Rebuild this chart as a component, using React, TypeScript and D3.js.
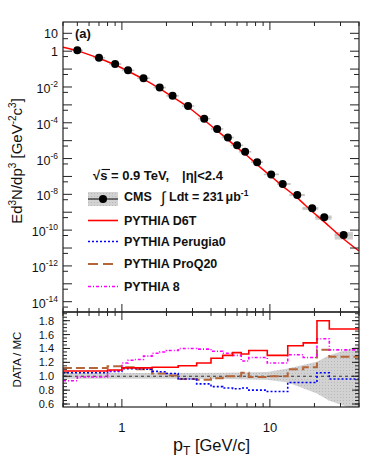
import React from 'react';
import * as d3 from 'd3';

// ---- data ----
const dataPt = [0.5, 0.7, 0.9, 1.1, 1.4, 1.8, 2.2, 2.8, 3.6, 4.4, 5.2, 6.0, 6.8, 8.2, 10.2, 12.2, 15.3, 19.3, 23.3, 31.5];
const dataVal = [1.12, 0.43, 0.19, 0.085, 0.031, 0.0093, 3.2e-3, 8.7e-4, 1.7e-4, 4.5e-5, 1.5e-5, 5.5e-6, 2.4e-6, 6.3e-7, 1.3e-7, 3.8e-8, 9.1e-9, 1.65e-9, 5.2e-10, 5.4e-11];
const dataPtLo = [0.455, 0.64, 0.82, 1.0, 1.27, 1.64, 2.0, 2.55, 3.27, 4.0, 4.73, 5.45, 6.18, 7.45, 9.1, 11.2, 13.6, 16.6, 20.3, 27.4];
const dataPtHi = [0.545, 0.77, 0.99, 1.21, 1.54, 1.98, 2.42, 3.08, 3.96, 4.84, 5.72, 6.6, 7.48, 9.0, 11.5, 13.8, 17.2, 21.2, 26.1, 36.4];
const dataSys = [0.04, 0.04, 0.04, 0.04, 0.04, 0.04, 0.04, 0.04, 0.04, 0.045, 0.045, 0.05, 0.05, 0.05, 0.06, 0.09, 0.13, 0.2, 0.28, 0.45];

const d6tPt = [0.4, 0.5, 0.7, 0.9, 1.1, 1.4, 1.8, 2.2, 2.8, 3.6, 4.4, 5.2, 6.0, 6.8, 8.2, 10.2, 12.2, 15.3, 19.3, 23.3, 31.5, 40];
const d6tVal = [1.65, 1.04, 0.40, 0.174, 0.076, 0.0277, 0.0082, 2.83e-3, 7.6e-4, 1.43e-4, 3.6e-5, 1.15e-5, 4.1e-6, 1.8e-6, 4.6e-7, 1.0e-7, 2.9e-8, 6.3e-9, 1.1e-9, 2.9e-10, 3.2e-11, 6.8e-12];

const ratioEdges = [0.4, 0.5, 0.8, 0.9, 1.0, 1.1, 1.2, 1.4, 1.6, 1.8, 2.0, 2.4, 3.2, 4.0, 4.8, 5.6, 6.4, 7.2, 9.6, 13.2, 16.8, 20.8, 25.2, 40];
const ratioD6T = [1.075, 1.075, 1.09, 1.09, 1.12, 1.12, 1.12, 1.12, 1.13, 1.13, 1.13, 1.15, 1.19, 1.26, 1.30, 1.34, 1.32, 1.37, 1.30, 1.44, 1.48, 1.80, 1.68];
const ratioPerugia0 = [1.05, 1.05, 1.07, 1.07, 1.11, 1.11, 1.11, 1.10, 1.07, 1.065, 1.04, 0.96, 0.89, 0.85, 0.83, 0.82, 0.83, 0.80, 0.78, 0.91, 0.91, 1.05, 0.96];
const ratioProQ20 = [1.12, 1.12, 1.145, 1.145, 1.13, 1.13, 1.10, 1.10, 1.04, 1.04, 1.01, 0.96, 0.95, 0.97, 1.0, 1.0, 1.05, 0.99, 1.0, 1.10, 1.13, 1.38, 1.28];
const ratioPythia8 = [0.935, 0.99, 1.08, 1.08, 1.19, 1.23, 1.24, 1.29, 1.33, 1.35, 1.37, 1.40, 1.39, 1.36, 1.33, 1.30, 1.22, 1.27, 1.19, 1.31, 1.27, 1.54, 1.38];

const bandPt = [0.4, 2, 5, 9.6, 13.2, 20.8, 25, 40];
const bandHi = [1.045, 1.045, 1.05, 1.06, 1.11, 1.21, 1.3, 1.44];
const bandLo = [0.965, 0.965, 0.96, 0.95, 0.91, 0.75, 0.65, 0.5];

const xMajor = [1, 10];
const xMinor = [0.4, 0.5, 0.6, 0.7, 0.8, 0.9, 2, 3, 4, 5, 6, 7, 8, 9, 20, 30, 40];
const yLabelExp = [1, 0, -2, -4, -6, -8, -10, -12, -14];
const ratioLabels = [0.6, 0.8, 1.0, 1.2, 1.4, 1.6, 1.8];

const COL = { d6t: '#ff0000', per: '#0000ff', pro: '#b5653a', p8: '#ff00ff' };
const FONT = '"Liberation Sans", Arial, Helvetica, sans-serif';

export default function App() {
  const W = 374, H = 474;
  const x0 = 63, x1 = 359, yT0 = 22, yT1 = 312, yB0 = 312, yB1 = 407;
  const x = d3.scaleLog().domain([0.4, 40]).range([x0, x1]);
  const yT = d3.scaleLog().domain([Math.pow(10, -14.576), Math.pow(10, 1.632)]).range([yT1, yT0]);
  const yB = d3.scaleLinear().domain([0.557, 1.925]).range([yB1, yB0]);

  const line = d3.line<number>().x((_, i) => x(d6tPt[i])).y((v) => yT(v)).curve(d3.curveMonotoneX);

  const stepPath = (vals: number[], fromBottom: boolean) => {
    let d = fromBottom ? `M${x(ratioEdges[0])},${yB1}L${x(ratioEdges[0])},${yB(vals[0])}` : `M${x(ratioEdges[0])},${yB(vals[0])}`;
    vals.forEach((v, i) => {
      d += `L${x(ratioEdges[i])},${yB(v)}L${x(ratioEdges[i + 1])},${yB(v)}`;
    });
    return d;
  };

  const band = d3.area<number>().x((_, i) => x(bandPt[i])).y0((_, i) => yB(bandLo[i])).y1((v) => yB(v));

  const yTicksMajor: number[] = [];
  const yTicksMinor: number[] = [];
  for (let k = -15; k <= 1; k++) {
    const v = Math.pow(10, k);
    if (yT(v) >= yT0 && yT(v) <= yT1) yTicksMajor.push(v);
    const m = 5 * Math.pow(10, k - 1);
    if (yT(m) >= yT0 && yT(m) <= yT1) yTicksMinor.push(m);
  }
  const rMajor = d3.range(0.6, 1.81, 0.2);
  const rMinor = d3.range(0.6, 1.92, 0.05).filter((v) => yB(v) >= yB0 && yB(v) <= yB1);

  const axisStroke = '#222';

  const xTicks = (yEdge: number, dir: number, key: string) => (
    <g key={key}>
      {xMajor.map((t) => (
        <line key={'M' + t} x1={x(t)} x2={x(t)} y1={yEdge} y2={yEdge + dir * 8} stroke={axisStroke} strokeWidth={1} />
      ))}
      {xMinor.map((t) => (
        <line key={'m' + t} x1={x(t)} x2={x(t)} y1={yEdge} y2={yEdge + dir * 4} stroke={axisStroke} strokeWidth={1} />
      ))}
    </g>
  );

  const legendRows = [
    { label: 'PYTHIA D6T', color: COL.d6t, dash: '', y: 220.5, w: 1.6 },
    { label: 'PYTHIA Perugia0', color: COL.per, dash: '2,2', y: 241.5, w: 1.6 },
    { label: 'PYTHIA ProQ20', color: COL.pro, dash: '10,5', y: 264, w: 2 },
    { label: 'PYTHIA 8', color: COL.p8, dash: '3,2,1,2', y: 286.5, w: 1.6 },
  ];

  return (
    <svg width={W} height={H} style={{ position: 'absolute', left: 0, top: 0, background: '#fff' }} fontFamily={FONT}>
      <defs>
        <clipPath id="clipTop">
          <rect x={x0} y={yT0} width={x1 - x0} height={yT1 - yT0} />
        </clipPath>
        <clipPath id="clipBot">
          <rect x={x0} y={yB0} width={x1 - x0} height={yB1 - yB0} />
        </clipPath>
        <pattern id="dots" width="3" height="3" patternUnits="userSpaceOnUse">
          <rect width="3" height="3" fill="#d2d2d2" />
          <rect x="1" y="1" width="1" height="1" fill="#b8b8b8" />
        </pattern>
      </defs>
      <rect width={W} height={H} fill="#fff" />

      {/* ===== TOP PANEL ===== */}
      <g clipPath="url(#clipTop)">
        {dataPt.map((p, i) => (
          <g key={'e' + i}>
            <rect
              x={x(dataPtLo[i])}
              width={x(dataPtHi[i]) - x(dataPtLo[i])}
              y={yT(dataVal[i] * (1 + dataSys[i]))}
              height={Math.max(0, yT(dataVal[i] * (1 - dataSys[i])) - yT(dataVal[i] * (1 + dataSys[i])))}
              fill="#d0d0d0"
            />
            <line x1={x(dataPtLo[i])} x2={x(dataPtHi[i])} y1={yT(dataVal[i])} y2={yT(dataVal[i])} stroke="#c4c4c4" strokeWidth={1.6} />
          </g>
        ))}
        <path d={line(d6tVal) || ''} fill="none" stroke={COL.d6t} strokeWidth={1.5} />
        {dataPt.map((p, i) => (
          <circle key={'c' + i} cx={x(p)} cy={yT(dataVal[i])} r={4} fill="#000" />
        ))}
      </g>

      <rect x={x0} y={yT0} width={x1 - x0} height={yT1 - yT0} fill="none" stroke={axisStroke} strokeWidth={1.2} />
      {xTicks(yT0, 1, 'tt')}
      {xTicks(yT1, -1, 'tb')}
      {yTicksMajor.map((v, i) => (
        <g key={'ym' + i}>
          <line x1={x0} x2={x0 + 9} y1={yT(v)} y2={yT(v)} stroke={axisStroke} />
          <line x1={x1} x2={x1 - 9} y1={yT(v)} y2={yT(v)} stroke={axisStroke} />
        </g>
      ))}
      {yTicksMinor.map((v, i) => (
        <g key={'yn' + i}>
          <line x1={x0} x2={x0 + 5} y1={yT(v)} y2={yT(v)} stroke={axisStroke} />
          <line x1={x1} x2={x1 - 5} y1={yT(v)} y2={yT(v)} stroke={axisStroke} />
        </g>
      ))}
      {yLabelExp.map((k) => {
        const yy = yT(Math.pow(10, k));
        if (k === 1) return <text key={'l' + k} x={58} y={yy + 4.5} fontSize={12.5} textAnchor="end" fill="#111">10</text>;
        if (k === 0) return <text key={'l' + k} x={58} y={yy + 4.5} fontSize={12.5} textAnchor="end" fill="#111">1</text>;
        return (
          <text key={'l' + k} x={58} y={yy + 6} fontSize={12.5} textAnchor="end" fill="#111">
            10<tspan dy={-6} fontSize={8.5}>{String(k)}</tspan>
          </text>
        );
      })}

      <text x={75} y={37.5} fontSize={13} fontWeight="bold" fill="#111">(a)</text>

      {/* legend */}
      <text x={93} y={180} fontSize={13} fontWeight="bold" fill="#111">√s = 0.9 TeV,</text>
      <line x1={101.5} x2={110} y1={169.5} y2={169.5} stroke="#111" strokeWidth={1.1} />
      <text x={182} y={180} fontSize={13} fontWeight="bold" fill="#111">|η|&lt;2.4</text>

      <rect x={88} y={192} width={30} height={14} fill="url(#dots)" />
      <line x1={88} x2={118} y1={199} y2={199} stroke="#000" strokeWidth={1} />
      <circle cx={103} cy={199} r={4} fill="#000" />
      <text x={124} y={201} fontSize={12.5} fontWeight="bold" fill="#111">CMS</text>
      <text x={161} y={203} fontSize={16} fill="#111">∫</text>
      <text x={169} y={201} fontSize={12.5} fontWeight="bold" fill="#111">
        Ldt = 231<tspan dx={2}>μ</tspan>b<tspan dy={-5.5} fontSize={8.5}>-1</tspan>
      </text>

      {legendRows.map((r) => (
        <g key={r.label}>
          <line x1={88} x2={118} y1={r.y} y2={r.y} stroke={r.color} strokeWidth={r.w} strokeDasharray={r.dash || undefined} />
          <text x={124} y={r.y + 4.2} fontSize={12.5} fontWeight="bold" fill="#111">{r.label}</text>
        </g>
      ))}

      <text transform={`translate(21.5,161) rotate(-90)`} fontSize={15} textAnchor="middle" fill="#111">
        Ed<tspan dy={-6} fontSize={10}>3</tspan><tspan dy={6}>N/dp</tspan><tspan dy={-6} fontSize={10}>3</tspan>
        <tspan dy={6}> [GeV</tspan><tspan dy={-6} fontSize={10}>-2</tspan><tspan dy={6}>c</tspan><tspan dy={-6} fontSize={10}>3</tspan><tspan dy={6}>]</tspan>
      </text>

      {/* ===== BOTTOM PANEL ===== */}
      <g clipPath="url(#clipBot)">
        <path d={band(bandHi) || ''} fill="url(#dots)" stroke="none" />
        <line x1={x0} x2={x1} y1={yB(1)} y2={yB(1)} stroke="#333" strokeWidth={1} strokeDasharray="3,3" />
        <path d={stepPath(ratioProQ20, true)} fill="none" stroke={COL.pro} strokeWidth={2} strokeDasharray="9,4" />
        <path d={stepPath(ratioPerugia0, false)} fill="none" stroke={COL.per} strokeWidth={1.6} strokeDasharray="2,2" />
        <path d={stepPath(ratioPythia8, false)} fill="none" stroke={COL.p8} strokeWidth={1.6} strokeDasharray="3,2,1,2" />
        <path d={stepPath(ratioD6T, true)} fill="none" stroke={COL.d6t} strokeWidth={1.6} />
      </g>
      <rect x={x0} y={yB0} width={x1 - x0} height={yB1 - yB0} fill="none" stroke={axisStroke} strokeWidth={1.2} />
      {xTicks(yB0, 1, 'bt')}
      {xTicks(yB1, -1, 'bb')}
      {rMajor.map((v, i) => (
        <g key={'rm' + i}>
          <line x1={x0} x2={x0 + 7} y1={yB(v)} y2={yB(v)} stroke={axisStroke} />
          <line x1={x1} x2={x1 - 7} y1={yB(v)} y2={yB(v)} stroke={axisStroke} />
        </g>
      ))}
      {rMinor.map((v, i) => (
        <g key={'rn' + i}>
          <line x1={x0} x2={x0 + 4} y1={yB(v)} y2={yB(v)} stroke={axisStroke} />
          <line x1={x1} x2={x1 - 4} y1={yB(v)} y2={yB(v)} stroke={axisStroke} />
        </g>
      ))}
      {ratioLabels.map((v) => (
        <text key={'rl' + v} x={54} y={yB(v) + 4} fontSize={11} textAnchor="end" fill="#111">{v.toFixed(1)}</text>
      ))}
      <text transform={`translate(20.5,359.5) rotate(-90)`} fontSize={11.5} textAnchor="middle" fill="#111">DATA / MC</text>

      {xMajor.map((t) => (
        <text key={'xl' + t} x={x(t)} y={432} fontSize={13} textAnchor="middle" fill="#111">{t}</text>
      ))}
      <text x={173} y={451} fontSize={18} fill="#111">
        p<tspan dy={4} fontSize={12}>T</tspan><tspan dy={-4} fontSize={16.5}> [GeV/c]</tspan>
      </text>
    </svg>
  );
}
